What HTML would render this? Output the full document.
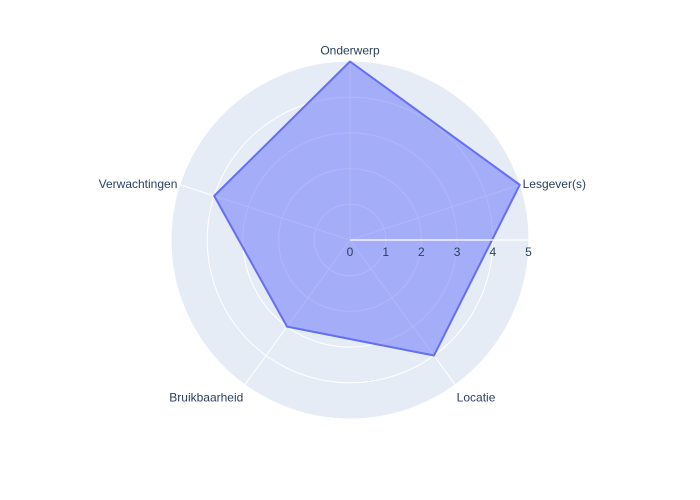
<!DOCTYPE html>
<html><head><meta charset="utf-8"><style>
html,body{margin:0;padding:0;background:#fff;}
svg{display:block;font-family:"Liberation Sans",Arial,sans-serif;}
</style></head><body>
<svg id="chart" width="700" height="500" viewBox="0 0 700 500" xmlns="http://www.w3.org/2000/svg"></svg>
<script>
const categories = ["Onderwerp","Lesgever(s)","Locatie","Bruikbaarheid","Verwachtingen"];
const values = [5,5,4,3,4];
const radialTicks = [0,1,2,3,4,5];

const NS="http://www.w3.org/2000/svg";
const svg=document.getElementById('chart');
const cx=350, cy=240, R=178.5, rMax=5;
function rScale(v){return v/rMax*R;}
function angle(i){return (90 - i*360/categories.length)*Math.PI/180;}
function pt(i,v){const a=angle(i),r=rScale(v);return [cx+r*Math.cos(a), cy-r*Math.sin(a)];}
function mk(tag,attrs){const e=document.createElementNS(NS,tag);for(const k in attrs)e.setAttribute(k,attrs[k]);svg.appendChild(e);return e;}

const bg=mk('circle',{cx:cx,cy:cy,r:R,fill:'#e5ecf6'});



radialTicks.forEach(t=>{
  if(t>0&&t<rMax){
    const c=mk('circle',{cx:cx,cy:cy,r:rScale(t),fill:'none',stroke:'#fff','stroke-width':1});
    
    
  }
});
categories.forEach((c,i)=>{
  const [x,y]=pt(i,rMax);
  const l=mk('line',{x1:cx,y1:cy,x2:x,y2:y,stroke:'#fff','stroke-width':1});
  
  
});

const poly=mk('polygon',{points:values.map((v,i)=>pt(i,v).join(',')).join(' '),fill:'rgba(99,110,250,0.5)',stroke:'#636efa','stroke-width':2,'stroke-linejoin':'round'});



const ax=mk('line',{x1:cx,y1:cy,x2:cx+R,y2:cy,stroke:'rgba(255,255,255,0.85)','stroke-width':1.5});



radialTicks.forEach(t=>{
  const tx=mk('text',{x:cx+rScale(t),y:cy+16,'text-anchor':'middle','font-size':12,fill:'#2a3f5f'});
  tx.textContent=t;
  
  
});

categories.forEach((c,i)=>{
  const a=angle(i);
  const [x,y]=pt(i,rMax);
  const cs=Math.cos(a), sn=Math.sin(a);
  let anchor='middle';
  if(cs>0.3)anchor='start';else if(cs<-0.3)anchor='end';
  const off=3;
  let lx=x+off*cs, ly=y-off*sn+4;
  if(sn>0.9)ly=y-7;
  if(sn<-0.5)ly=y+17;
  const tx=mk('text',{x:lx,y:ly,'text-anchor':anchor,'font-size':12,fill:'#2a3f5f'});
  tx.textContent=c;
  
  
});
</script>
</body></html>
